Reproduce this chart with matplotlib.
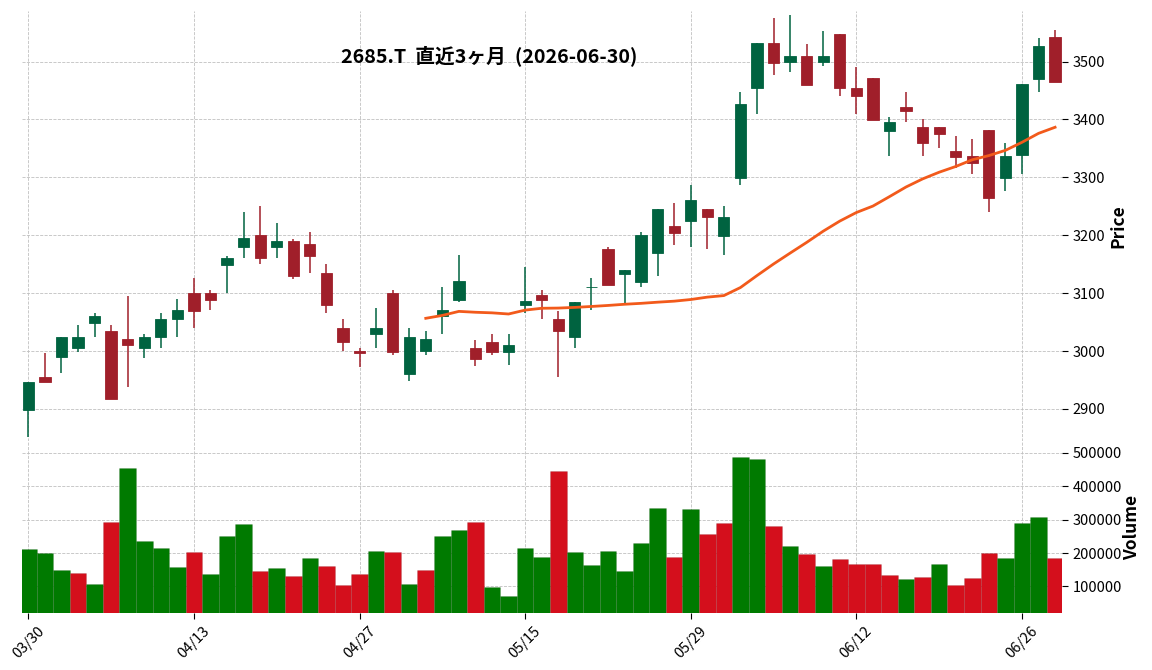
import numpy as np
import pandas as pd
import matplotlib
matplotlib.use('Agg')
import matplotlib.pyplot as plt

plt.rcParams['font.family'] = ['Noto Sans CJK JP', 'DejaVu Sans']

# trading days (TSE holidays skipped)
holidays = ['2026-04-29', '2026-05-04', '2026-05-05', '2026-05-06']
dates = pd.bdate_range('2026-03-30', '2026-06-30', freq='C', holidays=holidays)

opens = [2898, 2956, 2989, 3005, 3049, 3035, 3020, 3005, 3024, 3055,
         3100, 3100, 3149, 3179, 3201, 3179, 3190, 3185, 3135, 3040,
         3000, 3029, 3100, 2960, 3000, 3060, 3089, 3006, 3016, 2999,
         3079, 3096, 3056, 3024, 3111, 3177, 3133, 3120, 3170, 3216,
         3225, 3245, 3199, 3299, 3455, 3532, 3500, 3510, 3500, 3547,
         3455, 3471, 3380, 3421, 3387, 3387, 3345, 3337, 3382, 3299,
         3339, 3470, 3542]
highs = [2946, 2997, 3025, 3045, 3065, 3045, 3095, 3029, 3065, 3090,
         3126, 3105, 3165, 3240, 3250, 3221, 3194, 3205, 3150, 3055,
         3005, 3074, 3105, 3040, 3034, 3110, 3166, 3019, 3030, 3030,
         3145, 3105, 3070, 3085, 3126, 3180, 3140, 3205, 3245, 3255,
         3286, 3245, 3250, 3447, 3532, 3576, 3580, 3531, 3552, 3547,
         3491, 3471, 3405, 3447, 3400, 3387, 3371, 3366, 3382, 3360,
         3461, 3541, 3555]
lows = [2852, 2947, 2962, 2999, 3024, 2918, 2938, 2988, 3005, 3024,
        3040, 3071, 3100, 3160, 3150, 3160, 3125, 3134, 3066, 3000,
        2972, 3005, 2993, 2949, 2993, 3030, 3084, 2975, 2993, 2976,
        3066, 3055, 2955, 3005, 3071, 3114, 3079, 3110, 3129, 3184,
        3179, 3176, 3166, 3286, 3410, 3476, 3482, 3460, 3492, 3441,
        3410, 3399, 3337, 3395, 3337, 3350, 3316, 3306, 3240, 3276,
        3305, 3447, 3465]
closes = [2946, 2947, 3025, 3024, 3061, 2918, 3010, 3025, 3056, 3071,
          3070, 3089, 3161, 3195, 3160, 3190, 3129, 3164, 3079, 3015,
          2997, 3040, 2998, 3025, 3020, 3071, 3121, 2987, 2999, 3011,
          3086, 3089, 3034, 3085, 3111, 3114, 3140, 3201, 3245, 3204,
          3261, 3232, 3231, 3426, 3532, 3497, 3510, 3460, 3510, 3455,
          3441, 3399, 3395, 3415, 3360, 3375, 3336, 3325, 3265, 3337,
          3461, 3526, 3465]
volumes = [210600, 198700, 148400, 139500, 106900, 293600, 453600, 237300, 213600, 157300,
           201700, 136500, 252100, 287600, 145400, 154300, 130600, 183900, 160200, 103900,
           136500, 204700, 201700, 106900, 148400, 252100, 269900, 293600, 99000, 71300,
           213600, 186900, 444700, 203000, 165400, 207000, 147600, 230700, 334700, 189100,
           331700, 257400, 290100, 486100, 480200, 281200, 221800, 198000, 162400, 183200,
           168300, 168300, 135700, 120800, 129700, 168300, 103000, 123800, 201000, 186200,
           290100, 307900, 186200]

title = '2685.T  直近3ヶ月  (2026-06-30)'

o = np.array(opens, float)
h = np.array(highs, float)
l = np.array(lows, float)
c = np.array(closes, float)
v = np.array(volumes, float)
x = np.arange(len(dates))
ma25 = pd.Series(c).rolling(25).mean()

up_col, dn_col = '#006340', '#a01f2a'
vup_col, vdn_col = '#007a00', '#d40f1c'

fig = plt.figure(figsize=(11.52, 6.70), dpi=100)
left, width = 21.7 / 1152, 1040 / 1152
ax = fig.add_axes([left, 1 - 441 / 670, width, 430 / 670])
axv = fig.add_axes([left, 1 - 612.7 / 670, width, 171.5 / 670], sharex=ax)

for a in (ax, axv):
    a.set_axisbelow(True)
    a.grid(True, ls='--', lw=0.6, color='#c0c0c0')
    for s in a.spines.values():
        s.set_visible(False)
    a.yaxis.tick_right()
    a.yaxis.set_label_position('right')
    a.tick_params(axis='y', length=4, width=0.8, labelsize=10.5, pad=4)

# candles
cols = np.where(c >= o, up_col, dn_col)
ax.vlines(x, l, h, colors=cols, lw=1.1, zorder=2)
ax.bar(x, np.abs(c - o), bottom=np.minimum(o, c), width=0.68,
       color=cols, edgecolor=cols, linewidth=0.6, zorder=3)
ax.plot(x, ma25, color='#f25a1b', lw=2, zorder=4)

rng = l.min(), h.max()
pad = 0.01 * (rng[1] - rng[0])
ax.set_ylim(rng[0] - pad, rng[1] + pad)
ax.set_yticks(np.arange(2900, 3501, 100))
ax.set_ylabel('Price', fontsize=12.5, fontweight='bold', labelpad=3)
ax.tick_params(axis='x', bottom=False, labelbottom=False)

# volume coloured by close vs previous close
prev = np.concatenate([[c[0]], c[:-1]])
vcols = np.where(c >= prev, vup_col, vdn_col)
axv.bar(x, v, width=1.0, color=vcols, edgecolor='#00000018', linewidth=0.6)
axv.set_ylim(0.3 * v.min(), 1.1 * v.max())
axv.set_yticks(np.arange(100000, 500001, 100000))
axv.ticklabel_format(axis='y', style='plain', useOffset=False)
axv.set_ylabel('Volume', fontsize=12.5, fontweight='bold', labelpad=1)

ticks = x[::10]
axv.set_xticks(ticks)
axv.set_xticklabels([dates[i].strftime('%m/%d') for i in ticks], rotation=45, fontsize=10.5)
axv.tick_params(axis='x', length=4, width=0.8, pad=4)
axv.set_xlim(-0.4, len(x) - 0.6)

fig.text(489 / 1152, 1 - 55.5 / 670, title, fontsize=14.2, fontweight='bold',
         ha='center', va='center')

fig.savefig('out.png', dpi=100)
